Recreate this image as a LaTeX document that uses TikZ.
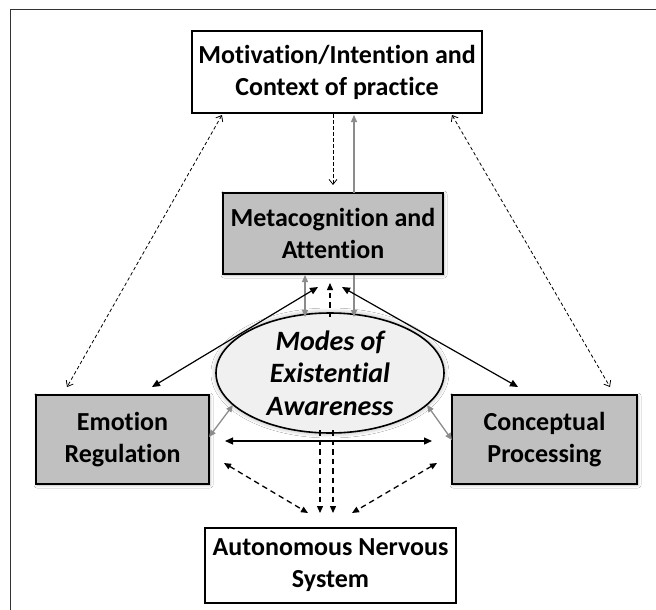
\documentclass[tikz,border=0pt]{standalone}
\usepackage{fontspec}
\setmainfont[Ligatures=NoCommon]{Carlito}
\usetikzlibrary{arrows.meta,shapes.geometric,shadows.blur}
\definecolor{boxgray}{HTML}{C0C0C0}
\definecolor{ellgray}{HTML}{F0F0F0}
\definecolor{arrgray}{HTML}{8C8C8C}
\begin{document}
\begin{tikzpicture}[x=1pt,y=-1pt,
  txt/.style={font=\bfseries\fontsize{26}{32}\selectfont},
  box/.style={draw=black, line width=1.6pt, align=center, txt, inner sep=0pt, fill=white},
  graybox/.style={box, fill=boxgray, blur shadow={shadow blur steps=8, shadow blur radius=3pt, shadow xshift=1pt, shadow yshift=-1pt, shadow opacity=25}},
  ell/.style={ellipse, draw=black, line width=1.6pt, fill=ellgray, align=center, inner sep=0pt,
     font=\bfseries\itshape\fontsize{28}{32.5}\selectfont,
     blur shadow={shadow blur steps=10, shadow blur radius=5pt, shadow xshift=0pt, shadow yshift=0pt, shadow opacity=35}},
  thindash/.style={line width=0.8pt, dash pattern=on 3.5pt off 2.5pt, {Straight Barb[length=5pt,width=8pt]}-{Straight Barb[length=5pt,width=8pt]}},
  blk/.style={line width=1.2pt, {Triangle[length=8pt,width=7pt]}-{Triangle[length=8pt,width=7pt]}},
  blkdash/.style={line width=1.3pt, dash pattern=on 5.5pt off 4pt, {Triangle[length=7pt,width=6pt]}-{Triangle[length=7pt,width=6pt]}},
  gry/.style={line width=1.3pt, draw=arrgray, {Triangle[length=7pt,width=6pt]}-{Triangle[length=7pt,width=6pt]}},
]
\useasboundingbox (0,0) rectangle (656,610);
\fill[white] (0,0) rectangle (656,610);
% frame (top and left edges visible)
\coordinate (fa) at (10,610);
\coordinate (fb) at (10,10);
\coordinate (fc) at (656,10);
\draw[line width=1pt, black!80] (fa) -- (fb) -- (fc);

% nodes
\node[box, minimum width=290pt, minimum height=82pt] (top) at (337,72) {Motivation/Intention and\\Context of practice};
\node[graybox, minimum width=220pt, minimum height=81pt] (meta) at (333,233.5) {Metacognition and\\Attention};
\node[graybox, minimum width=173pt, minimum height=89pt] (emo) at (122.5,439.5) {Emotion\\Regulation};
\node[graybox, minimum width=185pt, minimum height=89pt] (con) at (544.5,439.5) {Conceptual\\Processing};
\node[box, minimum width=251pt, minimum height=75pt] (ans) at (330.5,565.5) {Autonomous Nervous\\System};
\node[ell, minimum width=228pt, minimum height=114pt] (mea) at (330,373) {Modes of\\Existential\\Awareness};

% connector endpoints
\coordinate (t1) at (222,115);  \coordinate (e1) at (67,387);
\coordinate (t2) at (452,115);  \coordinate (c1) at (610,387);
\coordinate (t3) at (333,113);  \coordinate (m3) at (333,185);
\coordinate (m4) at (354,193);  \coordinate (t4) at (354,115);
\coordinate (m5) at (305,275);  \coordinate (x5) at (305,317);
\coordinate (x6) at (330,317);  \coordinate (m6) at (330,283);
\coordinate (m7) at (354,275);  \coordinate (x7) at (354,317);
\coordinate (m8) at (318,287);  \coordinate (e8) at (152,387);
\coordinate (m9) at (342,287);  \coordinate (c9) at (518,387);
\coordinate (e10) at (209,437); \coordinate (x10) at (233,405);
\coordinate (c11) at (452,440); \coordinate (x11) at (427,405);
\coordinate (e12) at (225,441); \coordinate (c12) at (432,441);
\coordinate (e13) at (224,463); \coordinate (a13) at (308,513);
\coordinate (c14) at (437,463); \coordinate (a14) at (352,513);
\coordinate (x15) at (320,430); \coordinate (a15) at (320,513);
\coordinate (x16) at (333,430); \coordinate (a16) at (333,513);

% connectors
\draw[thindash] (t1) -- (e1);
\draw[thindash] (t2) -- (c1);
\draw[thindash, {Straight Barb[length=5pt,width=8pt]}-] (m3) -- (t3);
\draw[gry, {Triangle[length=7pt,width=6pt]}-] (t4) -- (m4);
\draw[gry] (m5) -- (x5);
\draw[blkdash, -{Triangle[length=7pt,width=6pt]}] (x6) -- (m6);
\draw[gry, -{Triangle[length=7pt,width=6pt]}] (m7) -- (x7);
\draw[blk] (m8) -- (e8);
\draw[blk] (m9) -- (c9);
\draw[gry] (e10) -- (x10);
\draw[gry] (c11) -- (x11);
\draw[blk] (e12) -- (c12);
\draw[blkdash] (e13) -- (a13);
\draw[blkdash] (c14) -- (a14);
\draw[blkdash, -{Triangle[length=7pt,width=6pt]}] (x15) -- (a15);
\draw[blkdash, -{Triangle[length=7pt,width=6pt]}] (x16) -- (a16);
\end{tikzpicture}
\end{document}
